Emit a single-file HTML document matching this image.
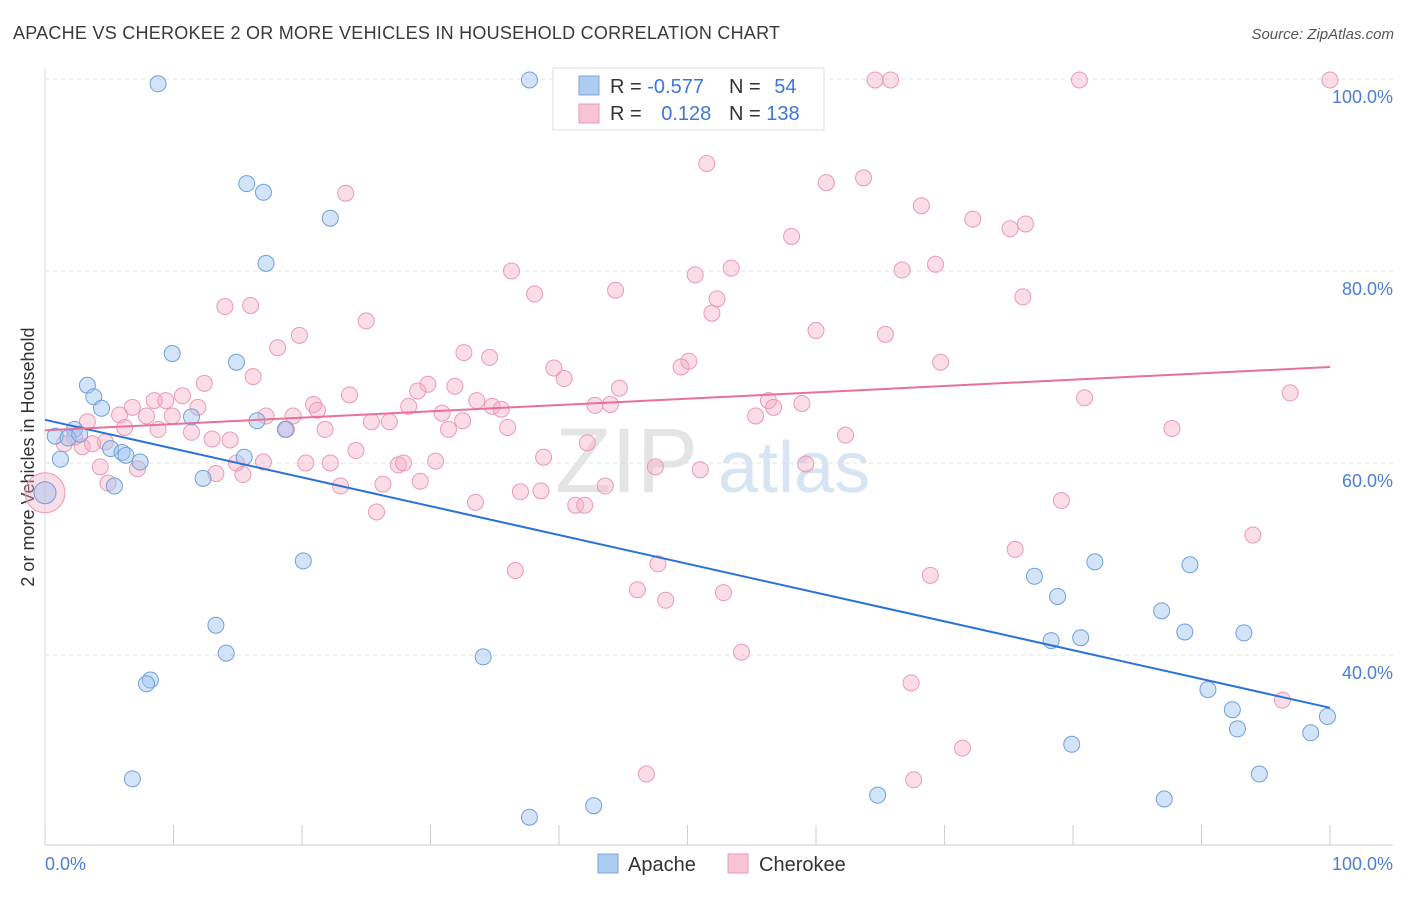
<!DOCTYPE html>
<html><head><meta charset="utf-8"><style>
body{margin:0;background:#fff;font-family:"Liberation Sans",sans-serif}
svg text{font-family:"Liberation Sans",sans-serif}
</style></head><body>
<svg id="chart" width="1406" height="892" xmlns="http://www.w3.org/2000/svg">
<text x="13" y="39" font-size="18" fill="#3a3a3a" textLength="767">APACHE VS CHEROKEE 2 OR MORE VEHICLES IN HOUSEHOLD CORRELATION CHART</text>
<text x="1394" y="39" font-size="15" fill="#555" text-anchor="end" font-style="italic">Source: ZipAtlas.com</text>
<text transform="translate(34,457) rotate(-90)" font-size="18" fill="#333" text-anchor="middle">2 or more Vehicles in Household</text>
<text x="555" y="492" font-size="92" fill="#e4e4e4" font-family="Liberation Serif">ZIP</text>
<text x="718" y="492" font-size="72" fill="#d6e4f4">atlas</text>
<g id="grid"></g><g id="ticks"></g><g id="pts"></g><g id="lines"></g>
<g>
<rect x="553" y="68" width="271" height="62" fill="#fff" stroke="#ddd"/>
<rect x="579" y="76" width="20" height="19" fill="#aecbf0" stroke="#7aa6e0"/>
<rect x="579" y="104" width="20" height="19" fill="#f8c4d3" stroke="#eb98b0"/>
<text x="610" y="93" font-size="20" fill="#333">R = <tspan fill="#3d78d6">-0.577</tspan></text>
<text x="729" y="93" font-size="20" fill="#333">N = <tspan fill="#3d78d6" dx="8">54</tspan></text>
<text x="610" y="120" font-size="20" fill="#333">R = <tspan fill="#3d78d6" dx="14">0.128</tspan></text>
<text x="729" y="120" font-size="20" fill="#333">N = <tspan fill="#3d78d6">138</tspan></text>
</g>
<g>
<rect x="598" y="854" width="20" height="19" fill="#aecbf0" stroke="#7aa6e0"/>
<text x="628" y="871" font-size="20" fill="#333">Apache</text>
<rect x="728" y="854" width="20" height="19" fill="#f8c4d3" stroke="#eb98b0"/>
<text x="759" y="871" font-size="20" fill="#333">Cherokee</text>
</g>
</svg>
<script>
const yTicks=[100,80,60,40];
const yTickLabels=["100.0%","80.0%","60.0%","40.0%"];
const xTickLabels=["0.0%","100.0%"];
const apacheX=[8.8,37.7,15.7,17.0,22.2,17.2,9.9,14.9,3.3,3.8,4.4,11.4,16.5,18.7,2.3,0.8,1.8,2.7,5.1,6.0,6.3,7.4,1.2,15.5,12.3,5.4,0,20.1,13.3,14.1,8.2,7.9,34.1,6.8,37.7,42.7,64.8,77.0,78.8,81.7,89.1,78.3,80.6,86.9,88.7,93.3,90.5,92.4,92.8,99.8,98.5,79.9,94.5,87.1];
const apacheY=[99.5,99.9,89.1,88.2,85.5,80.8,71.4,70.5,68.1,66.9,65.7,64.8,64.4,63.5,63.5,62.8,62.6,63.0,61.5,61.1,60.8,60.1,60.4,60.6,58.4,57.6,56.9,49.8,43.1,40.2,37.4,37.0,39.8,27.1,23.1,24.3,25.4,48.2,46.1,49.7,49.4,41.5,41.8,44.6,42.4,42.3,36.4,34.3,32.3,33.6,31.9,30.7,27.6,25.0];
const cherX=[53.5,64.6,65.8,80.5,100,51.5,23.4,60.8,63.7,68.2,72.2,76.3,75.1,58.1,36.3,50.6,53.4,66.7,69.3,38.1,44.4,14.0,16.0,52.3,51.9,76.1,25.0,60.0,65.4,19.8,18.1,32.6,34.6,50.1,49.5,69.7,39.6,40.4,29.8,31.9,29.0,16.2,12.4,23.7,10.7,8.5,9.4,44.7,33.6,56.3,56.7,58.9,80.9,96.9,20.9,21.2,11.9,34.8,35.5,28.3,42.8,44.0,6.8,5.8,7.9,9.9,17.2,19.3,30.9,26.8,25.4,32.5,36.0,55.3,21.8,31.4,18.8,6.2,8.8,11.4,13.0,14.4,2.3,3.3,4.7,1.5,2.9,3.7,62.3,87.7,42.2,24.2,38.8,27.5,27.9,30.4,20.3,22.2,14.9,17.0,47.5,51.0,59.2,4.3,7.2,13.3,15.4,29.2,26.3,43.6,38.6,37.0,33.5,41.3,42.0,4.9,23.0,25.8,79.1,94.0,75.5,36.6,47.7,68.9,46.1,48.3,52.8,54.2,67.4,96.3,71.4,46.8,67.6,0];
const cherY=[100,99.9,99.9,99.9,99.9,91.2,88.1,89.2,89.7,86.8,85.4,84.9,84.4,83.6,80.0,79.6,80.3,80.1,80.7,77.6,78.0,76.3,76.4,77.1,75.6,77.3,74.8,73.8,73.4,73.3,72.0,71.5,71.0,70.6,70.0,70.5,69.9,68.8,68.2,68.0,67.5,69.0,68.3,67.1,67.0,66.5,66.5,67.8,66.5,66.5,65.8,66.2,66.8,67.3,66.1,65.5,65.8,65.9,65.6,65.9,66.0,66.1,65.8,65.0,64.9,64.9,64.9,64.9,65.2,64.3,64.3,64.4,63.7,64.9,63.5,63.5,63.5,63.7,63.5,63.2,62.5,62.4,62.7,64.3,62.2,62.0,61.7,62.0,62.9,63.6,62.1,61.3,60.6,59.8,60.0,60.2,60.0,60.0,60.0,60.1,59.6,59.3,59.9,59.6,59.4,58.9,58.8,58.1,57.8,57.6,57.1,57.0,55.9,55.6,55.6,57.9,57.6,54.9,56.1,52.5,51.0,48.8,49.5,48.3,46.8,45.7,46.5,40.3,37.1,35.3,30.3,27.6,27.0,56.9];
const apacheLine=[64.5,34.5];
const cherLine=[63.4,70.0];
const NS="http://www.w3.org/2000/svg";
const X0=45,X1=1330,YT=79,PX=9.6;
const xs=v=>X0+(X1-X0)*v/100;
const ys=v=>YT+(100-v)*PX;
function mk(tag,attrs,parent){const e=document.createElementNS(NS,tag);for(const k in attrs)e.setAttribute(k,attrs[k]);document.getElementById(parent).appendChild(e);return e;}
yTicks.forEach((t,i)=>{
 const l=mk('line',{x1:45,x2:1393,y1:ys(t),y2:ys(t),stroke:'#e0e0e0','stroke-dasharray':'4,4'},'grid');
 
 
 const tx=mk('text',{x:1393,y:ys(t)+24,'font-size':18,fill:'#4a7fd4','text-anchor':'end'},'grid');tx.textContent=yTickLabels[i];
 
 
});
const ax=mk('line',{x1:45,x2:1393,y1:845,y2:845,stroke:'#ccc'},'ticks');


const ay=mk('line',{x1:45,x2:45,y1:68,y2:845,stroke:'#ddd'},'ticks');


for(let i=0;i<=10;i++){const t=mk('line',{x1:xs(i*10),x2:xs(i*10),y1:825,y2:845,stroke:'#ccc'},'ticks');
 
 }
[[0,'start',45],[100,'end',1393]].forEach((a,i)=>{const t=mk('text',{x:a[2],y:870,'font-size':18,fill:'#4a7fd4','text-anchor':a[1]},'ticks');t.textContent=xTickLabels[i];
 
 });
cherX.forEach((v,i)=>{const c=mk('circle',{cx:xs(v),cy:ys(cherY[i]),r:i==cherX.length-1?20:8,fill:'rgba(245,170,195,0.4)',stroke:'#eb9ab3','stroke-width':1},'pts');
 
 });
apacheX.forEach((v,i)=>{const c=mk('circle',{cx:xs(v),cy:ys(apacheY[i]),r:i==26?11:8,fill:'rgba(160,195,240,0.45)',stroke:'#6f9fdc','stroke-width':1},'pts');
 
 });
const bl=mk('line',{x1:xs(0),y1:ys(apacheLine[0]),x2:xs(100),y2:ys(apacheLine[1]),stroke:'#2a72d8','stroke-width':2},'lines');


const pl=mk('line',{x1:xs(0),y1:ys(cherLine[0]),x2:xs(100),y2:ys(cherLine[1]),stroke:'#e8709a','stroke-width':2},'lines');


</script>
</body></html>
